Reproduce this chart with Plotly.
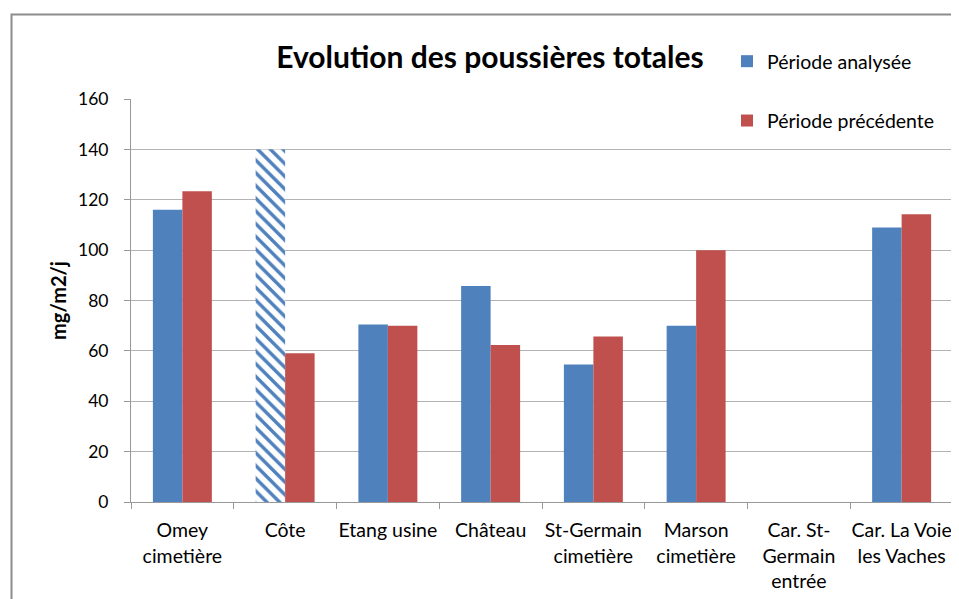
import plotly.graph_objects as go

categories = ["Omey<br>cimetière", "Côte", "Etang usine", "Château",
              "St-Germain<br>cimetière", "Marson<br>cimetière",
              "Car. St-<br>Germain<br>entrée", "Car. La Voie<br>les Vaches"]
periode_analysee = [116, 140, 70.5, 85.8, 54.6, 70, None, 109]
periode_precedente = [123.4, 59.1, 70, 62.3, 65.7, 100, None, 114.2]
analysee_patterns = ["", "\\", "", "", "", "", "", ""]
y_ticks = [0, 20, 40, 60, 80, 100, 120, 140, 160]

BLUE = "#4F81BD"
RED = "#C0504D"
FONT = "Lato, 'Open Sans', sans-serif"

# page has an 8px body margin: work in page pixels, convert to figure pixels
OFF = 8
W, H = 959 - OFF, 599 - OFF
# plot area in page px: x 131..953, y 99..502
PX0, PX1, PY0, PY1 = 131, 953, 99, 502
L, R = PX0 - OFF, W - (PX1 - OFF)
T, B = PY0 - OFF, H - (PY1 - OFF)
pw, ph = PX1 - PX0, PY1 - PY0


def px_x(v):
    return (v - PX0) / pw


def px_y(v):
    return (PY1 - v) / ph


fig = go.Figure()
fig.add_trace(go.Bar(
    x=categories, y=periode_analysee, name="Période analysée",
    legendgroup="a",
    marker=dict(color=BLUE, line=dict(width=0),
                pattern=dict(shape=analysee_patterns, fgcolor=BLUE,
                             bgcolor="white", fillmode="replace",
                             size=9, solidity=0.38)),
))
fig.add_trace(go.Bar(
    x=categories, y=periode_precedente, name="Période précédente",
    legendgroup="b",
    marker=dict(color=RED, line=dict(width=0)),
))

fig.update_layout(
    width=W, height=H,
    margin=dict(l=L, r=R, t=T, b=B, autoexpand=False),
    paper_bgcolor="white", plot_bgcolor="white",
    font=dict(family=FONT, size=18, color="#000000"),
    barmode="group", bargap=0.426, bargroupgap=0,
    title=dict(text="<b>Evolution des poussières totales</b>",
               font=dict(family=FONT, size=30, color="#000000"),
               x=(490 - OFF) / W, xanchor="center",
               y=1 - (57 - OFF) / H, yanchor="middle"),
    legend=dict(x=px_x(727), y=px_y(42), xanchor="left", yanchor="top",
                bgcolor="rgba(0,0,0,0)", traceorder="grouped",
                tracegroupgap=31, font=dict(family=FONT, size=19.5, color="#000000"),
                itemwidth=30),
    showlegend=True,
    xaxis=dict(type="category", showgrid=False, showline=True,
               linecolor="#999999", linewidth=1, ticks="outside",
               tickson="boundaries", ticklen=6, tickcolor="#999999",
               tickangle=0, automargin=False,
               tickfont=dict(family=FONT, size=19.5, color="#000000"),
               ticklabelstandoff=11),
    yaxis=dict(range=[0, 160], tickvals=y_ticks, showgrid=True,
               gridcolor="#b3b3b3", gridwidth=1, showline=True,
               linecolor="#999999", linewidth=1, ticks="outside",
               ticklen=6, tickcolor="#999999", zeroline=False,
               ticklabelstandoff=12, automargin=False,
               tickfont=dict(family=FONT, size=17.5, color="#000000"),
               title=dict(text="<b>mg/m2/j</b>",
                          font=dict(family=FONT, size=20, color="#000000"),
                          standoff=6)),
    shapes=[dict(type="rect", xref="paper", yref="paper",
                 x0=px_x(11.5), x1=px_x(1000), y0=px_y(700), y1=px_y(14.5),
                 line=dict(color="#8c8c8c", width=2), fillcolor="rgba(0,0,0,0)",
                 layer="below")],
)

fig.write_html("out.html")
